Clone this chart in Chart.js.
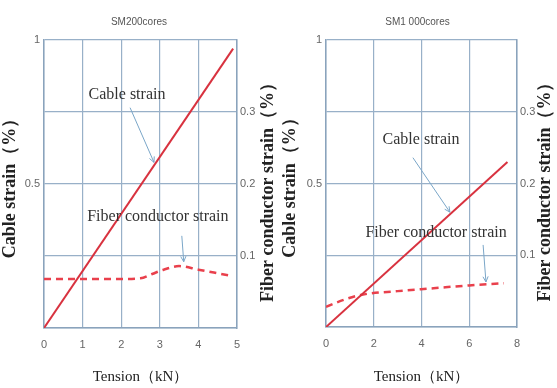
<!DOCTYPE html>
<html>
<head>
<meta charset="utf-8">
<script src="https://cdn.jsdelivr.net/npm/chart.js@4/dist/chart.umd.min.js"></script>
<style>
  html, body { margin: 0; padding: 0; background: #fff; }
  #wrap { position: relative; width: 557px; height: 388px; }
  .box { position: absolute; top: 0; height: 388px; }
  #boxA { left: 0; width: 278px; }
  #boxB { left: 278px; width: 279px; }
</style>
</head>
<body>
<div id="wrap">
  <div class="box" id="boxA"><canvas id="chartA"></canvas></div>
  <div class="box" id="boxB"><canvas id="chartB"></canvas></div>
</div>
<script>
// SM200 cores
const cable200X = [0, 4.9]
const cable200Y = [0, 0.97]
const fiber200X = [0, 1, 2, 2.5, 2.8, 3.1, 3.5, 4.0, 4.4, 4.8]
const fiber200Y = [0.068, 0.068, 0.068, 0.069, 0.075, 0.081, 0.086, 0.081, 0.077, 0.073]
const xTicks200 = [0, 1, 2, 3, 4, 5]

// SM1000 cores
const cable1000X = [0, 7.6]
const cable1000Y = [0, 0.575]
const fiber1000X = [0, 0.75, 1.5, 3, 4.5, 6, 7.45]
const fiber1000Y = [0.028, 0.038, 0.045, 0.05, 0.054, 0.058, 0.061]
const xTicks1000 = [0, 2, 4, 6, 8]

const leftTicks = [0, 0.25, 0.5, 0.75, 1]
const leftLabels = { 0.5: "0.5", 1: "1" }
const rightTicks = [0, 0.1, 0.2, 0.3, 0.4]
const rightLabels = { 0.1: "0.1", 0.2: "0.2", 0.3: "0.3" }

const gridColor = "#98b0c8"
const borderColor = "#8aa3bc"
const redLine = "#d8323f"
const redDash = "#e9404c"
const arrowColor = "#7aa6c8"

function toPoints(xs, ys) {
  return xs.map((x, i) => ({ x, y: ys[i] }))
}

// annotation text / arrows in data units (x: kN, y: left axis)
const notesA = [
  { text: "Cable strain", x: 2.15, y: 0.81, from: [2.23, 0.765], to: [2.85, 0.575] },
  { text: "Fiber conductor strain", x: 2.95, y: 0.385, from: [3.57, 0.32], to: [3.62, 0.23] }
]
const notesB = [
  { text: "Cable strain", x: 3.98, y: 0.652, from: [3.64, 0.59], to: [5.19, 0.40] },
  { text: "Fiber conductor strain", x: 4.61, y: 0.328, from: [6.58, 0.286], to: [6.70, 0.157] }
]

const extras = {
  id: "extras",
  afterDraw(chart, args, opts) {
    const { ctx, chartArea, scales } = chart
    ctx.save()
    // right axis title, reading bottom to top
    ctx.font = "bold 18px 'Liberation Serif', serif"
    ctx.fillStyle = "#222"
    ctx.textAlign = "center"
    ctx.textBaseline = "middle"
    ctx.translate(chartArea.right + opts.rightTitleGap, (chartArea.top + chartArea.bottom) / 2 + 4)
    ctx.rotate(-Math.PI / 2)
    ctx.fillText("Fiber conductor strain（%）", 0, 0)
    ctx.restore()

    ctx.save()
    ctx.font = "16px 'Liberation Serif', serif"
    ctx.textAlign = "center"
    ctx.textBaseline = "middle"
    opts.notes.forEach((n) => {
      ctx.fillStyle = "#333"
      ctx.fillText(n.text, scales.x.getPixelForValue(n.x), scales.y.getPixelForValue(n.y))
      const x1 = scales.x.getPixelForValue(n.from[0])
      const y1 = scales.y.getPixelForValue(n.from[1])
      const x2 = scales.x.getPixelForValue(n.to[0])
      const y2 = scales.y.getPixelForValue(n.to[1])
      ctx.strokeStyle = arrowColor
      ctx.lineWidth = 1
      ctx.beginPath()
      ctx.moveTo(x1, y1)
      ctx.lineTo(x2, y2)
      const a = Math.atan2(y2 - y1, x2 - x1)
      ctx.moveTo(x2 - 6 * Math.cos(a - 0.45), y2 - 6 * Math.sin(a - 0.45))
      ctx.lineTo(x2, y2)
      ctx.lineTo(x2 - 6 * Math.cos(a + 0.45), y2 - 6 * Math.sin(a + 0.45))
      ctx.stroke()
    })
    ctx.restore()
  }
}

function makeChart(el, cfg) {
  return new Chart(el, {
    type: "line",
    data: {
      datasets: [
        {
          data: toPoints(cfg.cableX, cfg.cableY),
          yAxisID: "y",
          borderColor: redLine,
          borderWidth: 2,
          pointRadius: 0,
          tension: 0
        },
        {
          data: toPoints(cfg.fiberX, cfg.fiberY),
          yAxisID: "y2",
          borderColor: redDash,
          borderWidth: 2.5,
          borderDash: [7, 5],
          pointRadius: 0,
          cubicInterpolationMode: "monotone"
        }
      ]
    },
    options: {
      responsive: true,
      maintainAspectRatio: false,
      animation: false,
      layout: { padding: 0 },
      plugins: {
        legend: { display: false },
        tooltip: { enabled: false },
        title: {
          display: true,
          text: cfg.title,
          color: "#555",
          font: { family: "'Liberation Sans', sans-serif", size: 10, weight: "normal" },
          padding: { top: 16, bottom: 12 }
        },
        extras: { notes: cfg.notes, rightTitleGap: cfg.rightTitleGap }
      },
      scales: {
        x: {
          type: "linear",
          min: 0,
          max: cfg.xMax,
          afterBuildTicks: (s) => { s.ticks = cfg.xTicks.map((v) => ({ value: v })) },
          afterFit: (s) => { s.height = cfg.bottomH },
          grid: { color: gridColor, lineWidth: 1.2, drawTicks: false },
          border: { color: borderColor, width: 1.5 },
          ticks: {
            color: "#666",
            padding: 10,
            font: { family: "'Liberation Sans', sans-serif", size: 11 }
          },
          title: {
            display: true,
            text: "Tension（kN）",
            color: "#222",
            font: { family: "'Liberation Serif', serif", size: 15 },
            padding: { top: 0, bottom: 2 }
          }
        },
        y: {
          type: "linear",
          position: "left",
          min: 0,
          max: 1,
          afterBuildTicks: (s) => { s.ticks = leftTicks.map((v) => ({ value: v })) },
          afterFit: (s) => { s.width = cfg.leftW },
          grid: { color: gridColor, lineWidth: 1.2, drawTicks: false },
          border: { color: borderColor, width: 1.5 },
          ticks: {
            color: "#666",
            padding: 4,
            font: { family: "'Liberation Sans', sans-serif", size: 11 },
            callback: (v) => leftLabels[v] || ""
          },
          title: {
            display: true,
            text: "Cable strain（%）",
            color: "#222",
            font: { family: "'Liberation Serif', serif", size: 18, weight: "bold" },
            padding: { top: cfg.leftTitlePad, bottom: 0 }
          }
        },
        y2: {
          type: "linear",
          position: "right",
          min: 0,
          max: 0.4,
          afterBuildTicks: (s) => { s.ticks = rightTicks.map((v) => ({ value: v })) },
          afterFit: (s) => { s.width = cfg.rightW },
          grid: { display: false, drawTicks: false },
          border: { color: borderColor, width: 1.5 },
          ticks: {
            color: "#666",
            padding: 3,
            font: { family: "'Liberation Sans', sans-serif", size: 11 },
            callback: (v) => rightLabels[Math.round(v * 10) / 10] || ""
          }
        }
      }
    },
    plugins: [extras]
  })
}

makeChart(document.getElementById("chartA"), {
  title: "SM200cores",
  cableX: cable200X, cableY: cable200Y,
  fiberX: fiber200X, fiberY: fiber200Y,
  xMax: 5, xTicks: xTicks200,
  leftW: 44, rightW: 41, bottomH: 60,
  leftTitlePad: 0, rightTitleGap: 31,
  notes: notesA
})

makeChart(document.getElementById("chartB"), {
  title: "SM1 000cores",
  cableX: cable1000X, cableY: cable1000Y,
  fiberX: fiber1000X, fiberY: fiber1000Y,
  xMax: 8, xTicks: xTicks1000,
  leftW: 48, rightW: 40, bottomH: 61,
  leftTitlePad: 2, rightTitleGap: 28,
  notes: notesB
})
</script>
</body>
</html>
